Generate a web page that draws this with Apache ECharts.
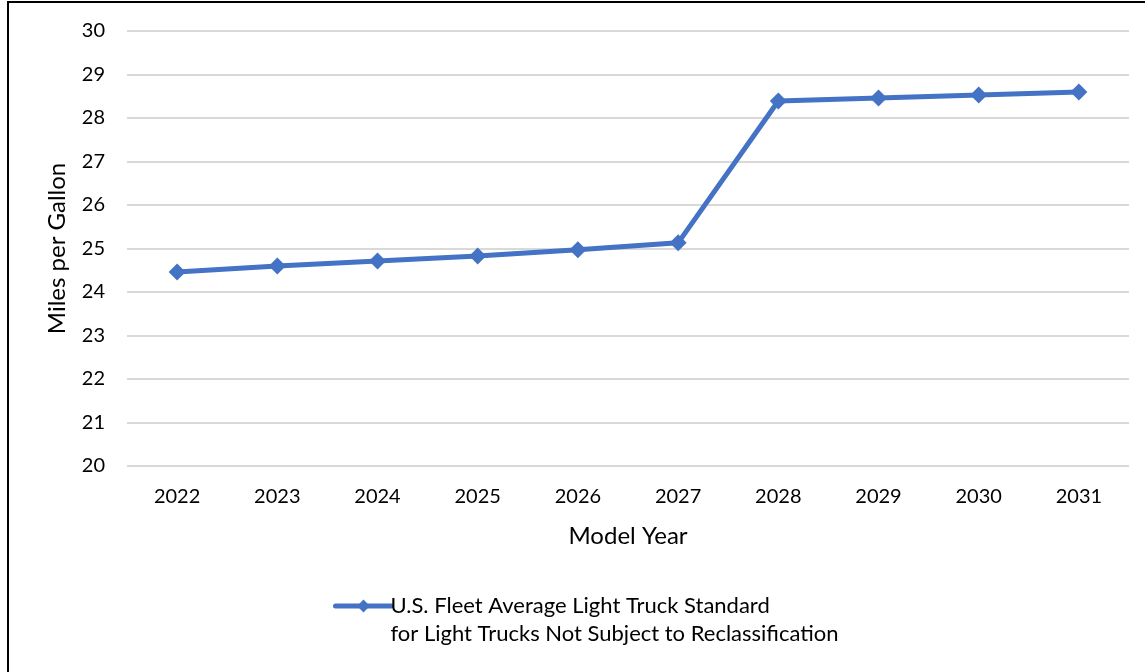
<!DOCTYPE html>
<html>
<head>
<meta charset="utf-8">
<script src="https://cdn.jsdelivr.net/npm/echarts@6/dist/echarts.min.js"></script>
<style>
  html, body { margin: 0; padding: 0; background: #fff; }
  #frame { position: absolute; left: 7px; top: 1px; width: 1138px; height: 671px;
           border-left: 2px solid #000; border-top: 2px solid #000; box-sizing: border-box; }
  #chart { position: absolute; left: 0; top: 0; width: 1145px; height: 672px; }
</style>
</head>
<body>
<div id="frame"></div>
<div id="chart"></div>
<script>
const modelYears = ['2022', '2023', '2024', '2025', '2026', '2027', '2028', '2029', '2030', '2031'];
const mpgStandard = [24.46, 24.60, 24.71, 24.83, 24.97, 25.13, 28.39, 28.46, 28.53, 28.60];
const seriesName = 'U.S. Fleet Average Light Truck Standard\nfor Light Trucks Not Subject to Reclassification';

const font = 'Lato, "Open Sans", sans-serif';
const chart = echarts.init(document.getElementById('chart'), null, { renderer: 'canvas' });
chart.setOption({
  backgroundColor: 'transparent',
  animation: false,
  textStyle: { fontFamily: font },
  grid: { left: 127, right: 16, top: 31, bottom: 206, containLabel: false },
  xAxis: {
    type: 'category',
    data: modelYears,
    boundaryGap: true,
    name: 'Model Year',
    nameLocation: 'middle',
    nameGap: 58,
    nameTextStyle: { fontSize: 24, color: '#000', fontFamily: font },
    axisLine: { show: false },
    axisTick: { show: false },
    axisLabel: { fontSize: 20, color: '#000', margin: 21, fontFamily: font }
  },
  yAxis: {
    type: 'value',
    min: 20,
    max: 30,
    interval: 1,
    name: 'Miles per Gallon',
    nameLocation: 'middle',
    nameGap: 58,
    nameTextStyle: { fontSize: 24, color: '#000', fontFamily: font },
    axisLine: { show: false },
    axisTick: { show: false },
    axisLabel: { fontSize: 20, color: '#000', margin: 22, fontFamily: font },
    splitLine: { lineStyle: { color: '#d9d9d9', width: 2 } }
  },
  legend: {
    left: 328,
    top: 559,
    itemWidth: 56,
    itemHeight: 16,
    itemGap: 0,
    lineStyle: { width: 5, cap: 'round' },
    // a leading empty line keeps the marker level with the first text line
    formatter: '\n{name}',
    textStyle: { fontSize: 22, color: '#000', lineHeight: 28, padding: [0, 0, 0, -6], fontFamily: font },
    data: [seriesName]
  },
  series: [{
    name: seriesName,
    type: 'line',
    data: mpgStandard,
    symbol: 'diamond',
    symbolSize: 17,
    lineStyle: { color: '#4472C4', width: 5 },
    itemStyle: { color: '#4472C4' }
  }]
});
</script>
</body>
</html>
